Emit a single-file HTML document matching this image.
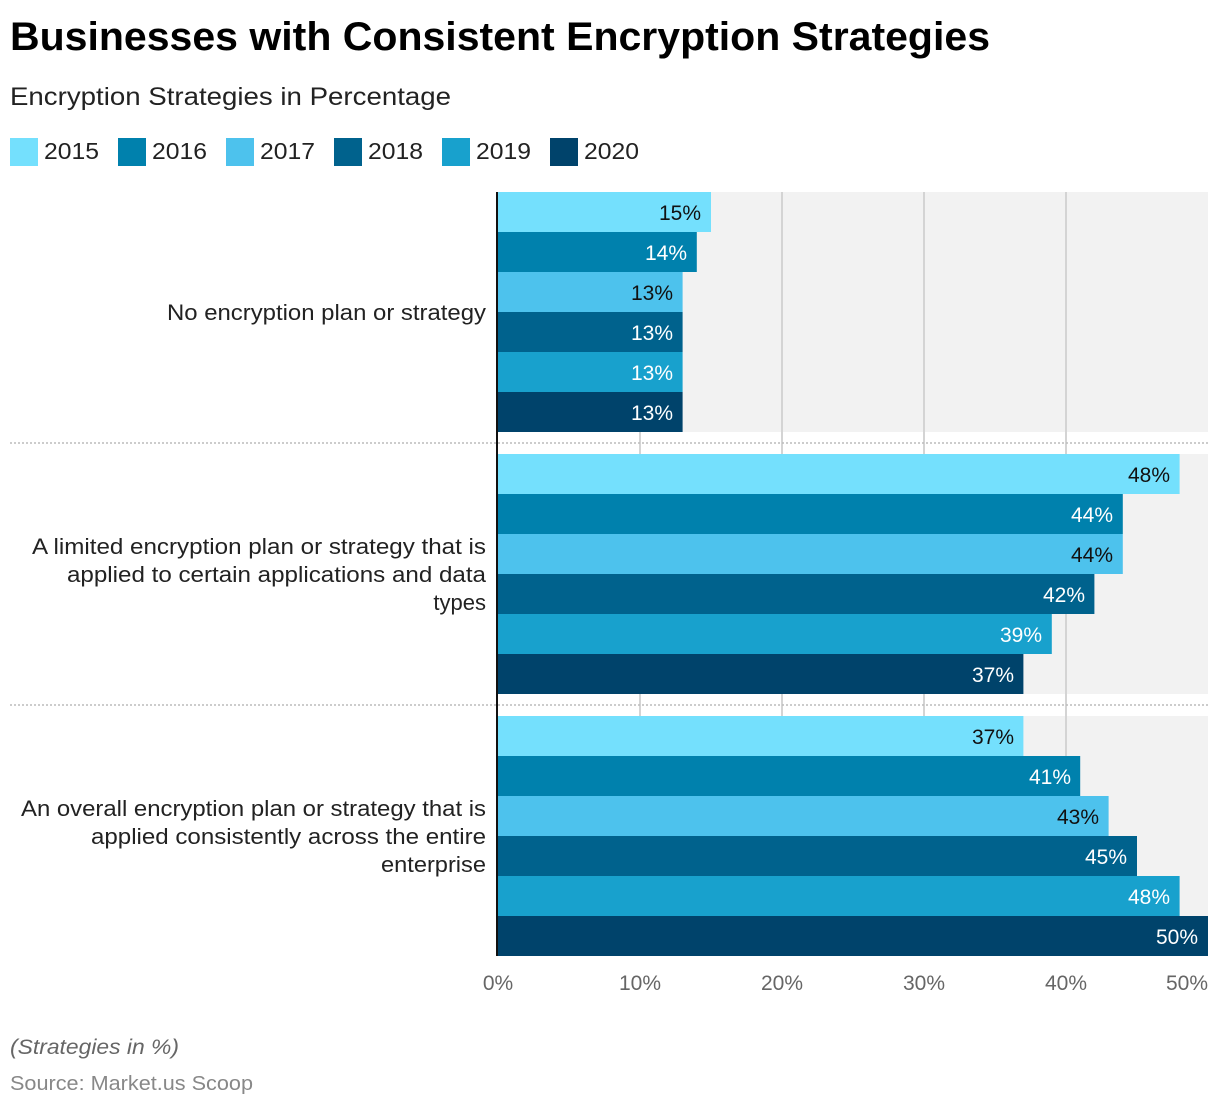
<!DOCTYPE html>
<html><head><meta charset="utf-8"><style>
body{margin:0;background:#fff}
svg{display:block;font-family:"Liberation Sans",sans-serif}
</style></head><body>
<svg width="1220" height="1108" viewBox="0 0 1220 1108" xmlns="http://www.w3.org/2000/svg">
<rect width="1220" height="1108" fill="#fff"/>
<text x="10" y="50" font-size="40" font-weight="bold" fill="#000" textLength="980" lengthAdjust="spacingAndGlyphs">Businesses with Consistent Encryption Strategies</text>
<text x="10" y="105" font-size="25" fill="#222" textLength="441" lengthAdjust="spacingAndGlyphs">Encryption Strategies in Percentage</text>
<g font-size="23" fill="#222">
<rect x="10" y="138" width="28" height="28" fill="#74e0fd"/><text x="44" y="159" textLength="55" lengthAdjust="spacingAndGlyphs">2015</text>
<rect x="118" y="138" width="28" height="28" fill="#0081ad"/><text x="152" y="159" textLength="55" lengthAdjust="spacingAndGlyphs">2016</text>
<rect x="226" y="138" width="28" height="28" fill="#4dc2ed"/><text x="260" y="159" textLength="55" lengthAdjust="spacingAndGlyphs">2017</text>
<rect x="334" y="138" width="28" height="28" fill="#00628d"/><text x="368" y="159" textLength="55" lengthAdjust="spacingAndGlyphs">2018</text>
<rect x="442" y="138" width="28" height="28" fill="#18a1cd"/><text x="476" y="159" textLength="55" lengthAdjust="spacingAndGlyphs">2019</text>
<rect x="550" y="138" width="28" height="28" fill="#00436b"/><text x="584" y="159" textLength="55" lengthAdjust="spacingAndGlyphs">2020</text>
</g>
<rect x="498" y="192" width="710" height="240" fill="#f2f2f2"/>
<rect x="498" y="454" width="710" height="240" fill="#f2f2f2"/>
<rect x="498" y="716" width="710" height="240" fill="#f2f2f2"/>
<g stroke="#d4d4d4" stroke-width="2">
<line x1="640" y1="192" x2="640" y2="956"/><line x1="782" y1="192" x2="782" y2="956"/>
<line x1="924" y1="192" x2="924" y2="956"/><line x1="1066" y1="192" x2="1066" y2="956"/>
</g>
<g stroke="#bbb" stroke-width="1.5" stroke-dasharray="2,2">
<line x1="10" y1="443" x2="1208" y2="443"/><line x1="10" y1="705" x2="1208" y2="705"/>
</g>
<g font-size="21" text-anchor="end">
<rect x="498" y="192" width="213" height="40" fill="#74e0fd"/><text x="701" y="220" fill="#111">15%</text>
<rect x="498" y="232" width="198.8" height="40" fill="#0081ad"/><text x="687" y="260" fill="#fff">14%</text>
<rect x="498" y="272" width="184.6" height="40" fill="#4dc2ed"/><text x="673" y="300" fill="#111">13%</text>
<rect x="498" y="312" width="184.6" height="40" fill="#00628d"/><text x="673" y="340" fill="#fff">13%</text>
<rect x="498" y="352" width="184.6" height="40" fill="#18a1cd"/><text x="673" y="380" fill="#fff">13%</text>
<rect x="498" y="392" width="184.6" height="40" fill="#00436b"/><text x="673" y="420" fill="#fff">13%</text>

<rect x="498" y="454" width="681.6" height="40" fill="#74e0fd"/><text x="1170" y="482" fill="#111">48%</text>
<rect x="498" y="494" width="624.8" height="40" fill="#0081ad"/><text x="1113" y="522" fill="#fff">44%</text>
<rect x="498" y="534" width="624.8" height="40" fill="#4dc2ed"/><text x="1113" y="562" fill="#111">44%</text>
<rect x="498" y="574" width="596.4" height="40" fill="#00628d"/><text x="1085" y="602" fill="#fff">42%</text>
<rect x="498" y="614" width="553.8" height="40" fill="#18a1cd"/><text x="1042" y="642" fill="#fff">39%</text>
<rect x="498" y="654" width="525.4" height="40" fill="#00436b"/><text x="1014" y="682" fill="#fff">37%</text>

<rect x="498" y="716" width="525.4" height="40" fill="#74e0fd"/><text x="1014" y="744" fill="#111">37%</text>
<rect x="498" y="756" width="582.2" height="40" fill="#0081ad"/><text x="1071" y="784" fill="#fff">41%</text>
<rect x="498" y="796" width="610.6" height="40" fill="#4dc2ed"/><text x="1099" y="824" fill="#111">43%</text>
<rect x="498" y="836" width="639" height="40" fill="#00628d"/><text x="1127" y="864" fill="#fff">45%</text>
<rect x="498" y="876" width="681.6" height="40" fill="#18a1cd"/><text x="1170" y="904" fill="#fff">48%</text>
<rect x="498" y="916" width="710" height="40" fill="#00436b"/><text x="1198" y="944" fill="#fff">50%</text>
</g>
<line x1="497" y1="192" x2="497" y2="956" stroke="#111" stroke-width="2"/>
<g font-size="22" fill="#222">
<text x="167" y="320" textLength="319" lengthAdjust="spacingAndGlyphs">No encryption plan or strategy</text>
<text x="32" y="554" textLength="454" lengthAdjust="spacingAndGlyphs">A limited encryption plan or strategy that is</text>
<text x="67" y="582" textLength="419" lengthAdjust="spacingAndGlyphs">applied to certain applications and data</text>
<text x="486" y="610" text-anchor="end">types</text>
<text x="21" y="816" textLength="465" lengthAdjust="spacingAndGlyphs">An overall encryption plan or strategy that is</text>
<text x="91" y="844" textLength="395" lengthAdjust="spacingAndGlyphs">applied consistently across the entire</text>
<text x="381" y="872" textLength="105" lengthAdjust="spacingAndGlyphs">enterprise</text>
</g>
<g font-size="21" fill="#666" text-anchor="middle">
<text x="498" y="990">0%</text><text x="640" y="990">10%</text><text x="782" y="990">20%</text>
<text x="924" y="990">30%</text><text x="1066" y="990">40%</text><text x="1187" y="990">50%</text>
</g>
<text x="10" y="1054" font-size="21" font-style="italic" fill="#666" textLength="169" lengthAdjust="spacingAndGlyphs">(Strategies in %)</text>
<text x="10" y="1090" font-size="20" fill="#888" textLength="243" lengthAdjust="spacingAndGlyphs">Source: Market.us Scoop</text>
</svg>
</body></html>
